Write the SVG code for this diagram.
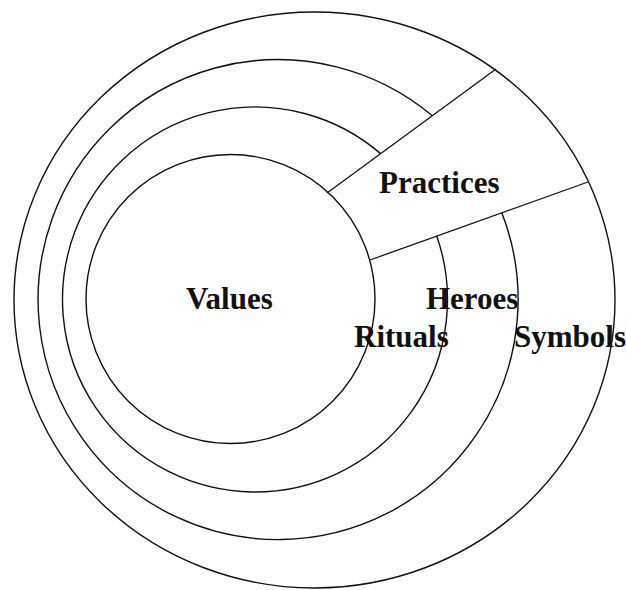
<svg xmlns="http://www.w3.org/2000/svg" width="626" height="590" viewBox="0 0 626 590">
<style>
.ring{fill:none;stroke:#111;stroke-width:1.4}
.div{fill:none;stroke:#111;stroke-width:1.3}
.lbl{font-family:"Liberation Serif","Times New Roman",serif;font-size:31px;font-weight:bold;fill:#111}
</style>
<rect width="626" height="590" fill="#fff"/>
<g id="symbols">
<ellipse class="ring" cx="314.5" cy="300" rx="300.5" ry="288"/>
<text class="lbl" x="514" y="347">Symbols</text>
</g>
<g id="heroes">
<path class="ring" d="M501.8 212.7 A240 240 0 1 1 432.3 115.7"/>
<text class="lbl" x="426" y="309">Heroes</text>
</g>
<g id="rituals">
<path class="ring" d="M436.7 235.9 A192.5 192.5 0 1 1 380.6 153.6"/>
<text class="lbl" x="354" y="347">Rituals</text>
</g>
<g id="values">
<circle class="ring" cx="230.5" cy="299" r="144.5"/>
<text class="lbl" x="186" y="309">Values</text>
</g>
<g id="practices">
<text class="lbl" x="379" y="193">Practices</text>
</g>
<g id="connectors">
<line class="div" x1="327" y1="193" x2="496" y2="69"/>
<line class="div" x1="370" y1="260" x2="588" y2="182"/>
</g>
</svg>
